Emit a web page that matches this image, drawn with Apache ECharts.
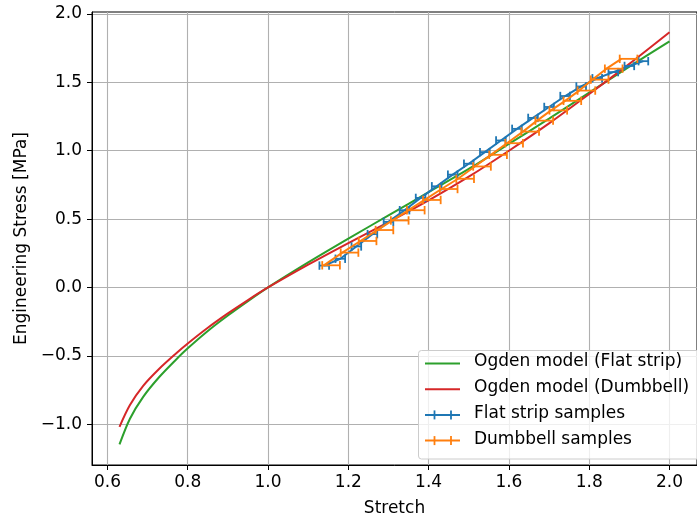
<!DOCTYPE html>
<html lang="en">
<head>
<meta charset="utf-8" />
<script src="https://cdn.jsdelivr.net/npm/echarts@6/dist/echarts.min.js"></script>
<style>
  html, body { margin: 0; padding: 0; background: #ffffff; }
  #main { width: 697px; height: 522px; }
</style>
</head>
<body>
<div id="main"></div>
<script>
// values
var modelStretch  = [0.63, 0.656, 0.689, 0.729, 0.770, 0.80, 0.85, 0.90, 0.95, 1.0, 1.1, 1.2, 1.3, 1.4, 1.5, 1.6, 1.7, 1.8, 1.9, 2.0];
var ogdenFlat     = [-1.148, -0.96, -0.80, -0.655, -0.53, -0.445, -0.318, -0.205, -0.10, 0, 0.183, 0.357, 0.527, 0.697, 0.867, 1.05, 1.235, 1.425, 1.615, 1.80];
var ogdenDumbbell = [-1.019, -0.86, -0.72, -0.595, -0.485, -0.41, -0.295, -0.19, -0.092, 0, 0.167, 0.325, 0.478, 0.637, 0.81, 1.0, 1.2, 1.415, 1.635, 1.866];

var flatStretch = [1.140, 1.180, 1.220, 1.260, 1.300, 1.340, 1.380, 1.420, 1.460, 1.500, 1.540, 1.580, 1.620, 1.660, 1.700, 1.740, 1.780, 1.820, 1.860, 1.900, 1.935];
var flatStress  = [0.16, 0.21, 0.30, 0.39, 0.48, 0.565, 0.655, 0.74, 0.825, 0.905, 0.99, 1.075, 1.16, 1.24, 1.32, 1.40, 1.47, 1.53, 1.575, 1.62, 1.655];
var flatErrLo   = [0.012, 0.012, 0.012, 0.012, 0.012, 0.012, 0.012, 0.012, 0.012, 0.012, 0.012, 0.012, 0.012, 0.012, 0.012, 0.012, 0.012, 0.012, 0.012, 0.012, 0.012];
var flatErrHi   = [0.012, 0.012, 0.012, 0.012, 0.012, 0.012, 0.012, 0.012, 0.012, 0.012, 0.012, 0.012, 0.012, 0.012, 0.012, 0.012, 0.012, 0.012, 0.012, 0.012, 0.012];

var dumbStretch = [1.139, 1.185, 1.230, 1.272, 1.310, 1.350, 1.390, 1.432, 1.473, 1.515, 1.555, 1.595, 1.635, 1.670, 1.705, 1.740, 1.775, 1.808, 1.843, 1.880];
var dumbStress  = [0.162, 0.255, 0.340, 0.420, 0.490, 0.565, 0.640, 0.720, 0.795, 0.885, 0.97, 1.055, 1.14, 1.22, 1.295, 1.365, 1.44, 1.52, 1.60, 1.672];
var dumbErrLo   = [0.004, 0.004, 0.004, 0.004, 0.004, 0.004, 0.004, 0.004, 0.004, 0.004, 0.004, 0.004, 0.004, 0.004, 0.004, 0.004, 0.004, 0.004, 0.004, 0.004];
var dumbErrHi   = [0.040, 0.040, 0.040, 0.040, 0.040, 0.040, 0.040, 0.040, 0.040, 0.040, 0.040, 0.040, 0.040, 0.040, 0.040, 0.040, 0.040, 0.040, 0.040, 0.040];

var xTicks = [0.6, 0.8, 1.0, 1.2, 1.4, 1.6, 1.8, 2.0];
var yTicks = [-1.0, -0.5, 0.0, 0.5, 1.0, 1.5, 2.0];

var legendNames = ['Ogden model (Flat strip)', 'Ogden model (Dumbbell)', 'Flat strip samples', 'Dumbbell samples'];

var GREEN = '#2ca02c', RED = '#d62728', BLUE = '#1f77b4', ORANGE = '#ff7f0e';
var FONT = 'DejaVu Sans';
var FS = 17;

function pairs(xs, ys) {
  return xs.map(function (x, i) { return [x, ys[i]]; });
}

function fmt(v) {
  return v.toFixed(1).replace('-', '\u2212');
}

function errorBars(xs, ys, lo, hi, color, z) {
  return {
    type: 'custom',
    z: z,
    silent: true,
    data: xs.map(function (x, i) { return [x - lo[i], x + hi[i], ys[i]]; }),
    encode: { x: [0, 1], y: 2 },
    renderItem: function (params, api) {
      var a = api.coord([api.value(0), api.value(2)]);
      var b = api.coord([api.value(1), api.value(2)]);
      var h = 4.2;
      var st = { stroke: color, lineWidth: 1.8 };
      return {
        type: 'group',
        children: [
          { type: 'line', shape: { x1: a[0], y1: a[1], x2: b[0], y2: b[1] }, style: st },
          { type: 'line', shape: { x1: a[0], y1: a[1] - h, x2: a[0], y2: a[1] + h }, style: st },
          { type: 'line', shape: { x1: b[0], y1: b[1] - h, x2: b[0], y2: b[1] + h }, style: st }
        ]
      };
    }
  };
}

// legend drawn by hand, in the matplotlib style
function legendGraphics() {
  var els = [{
    type: 'rect', left: 418, top: 350, z: 100,
    shape: { width: 290, height: 108.5, r: 3 },
    style: { fill: 'rgba(255,255,255,0.8)', stroke: '#cccccc', lineWidth: 1 }
  }];
  var colors = [GREEN, RED, BLUE, ORANGE];
  var rowY = [363.5, 389.2, 414.9, 440.6];
  for (var i = 0; i < 4; i++) {
    var y = rowY[i];
    els.push({ type: 'line', z: 101, shape: { x1: 425, y1: y, x2: 460, y2: y }, style: { stroke: colors[i], lineWidth: 2 } });
    if (i >= 2) {
      els.push({ type: 'line', z: 101, shape: { x1: 434.5, y1: y - 4.5, x2: 434.5, y2: y + 4.5 }, style: { stroke: colors[i], lineWidth: 1.8 } });
      els.push({ type: 'line', z: 101, shape: { x1: 451, y1: y - 4.5, x2: 451, y2: y + 4.5 }, style: { stroke: colors[i], lineWidth: 1.8 } });
    }
    els.push({
      type: 'text', z: 101, left: 474, top: y - 10,
      style: { text: legendNames[i], fill: '#000000', font: FS + 'px "' + FONT + '"' }
    });
  }
  return els;
}

var chart = echarts.init(document.getElementById('main'), null, { renderer: 'canvas' });

chart.setOption({
  animation: false,
  backgroundColor: '#ffffff',
  textStyle: { fontFamily: FONT },
  grid: {
    left: 92, top: 12, width: 616, height: 455,
    show: true, borderColor: '#000000', borderWidth: 1, backgroundColor: 'transparent'
  },
  xAxis: {
    type: 'value',
    min: 0.5615, max: 2.0685,
    name: 'Stretch',
    nameLocation: 'middle',
    nameGap: 35,
    nameTextStyle: { color: '#000000', fontSize: FS, fontFamily: FONT },
    axisLine: { show: true, onZero: false, lineStyle: { color: '#000000', width: 1 } },
    axisTick: { show: true, length: 5, customValues: xTicks, lineStyle: { color: '#000000', width: 1 } },
    axisLabel: { customValues: xTicks, margin: 9, color: '#000000', fontSize: FS, fontFamily: FONT, formatter: fmt },
    splitLine: { show: true, lineStyle: { color: '#b0b0b0', width: 1.1 } }
  },
  yAxis: {
    type: 'value',
    min: -1.2984, max: 2.0146,
    name: 'Engineering Stress [MPa]',
    nameLocation: 'middle',
    nameGap: 58,
    nameTextStyle: { color: '#000000', fontSize: FS, fontFamily: FONT },
    axisLine: { show: true, onZero: false, lineStyle: { color: '#000000', width: 1 } },
    axisTick: { show: true, length: 5, customValues: yTicks, lineStyle: { color: '#000000', width: 1 } },
    axisLabel: { customValues: yTicks, margin: 10, color: '#000000', fontSize: FS, fontFamily: FONT, formatter: fmt },
    splitLine: { show: true, lineStyle: { color: '#b0b0b0', width: 1.1 } }
  },
  graphic: legendGraphics(),
  series: [
    {
      name: legendNames[0], type: 'line', z: 2, showSymbol: false, smooth: 0.3,
      data: pairs(modelStretch, ogdenFlat),
      lineStyle: { color: GREEN, width: 2 }
    },
    {
      name: legendNames[1], type: 'line', z: 3, showSymbol: false, smooth: 0.3,
      data: pairs(modelStretch, ogdenDumbbell),
      lineStyle: { color: RED, width: 2 }
    },
    {
      name: legendNames[2], type: 'line', z: 4, showSymbol: false,
      data: pairs(flatStretch, flatStress),
      lineStyle: { color: BLUE, width: 2 }
    },
    errorBars(flatStretch, flatStress, flatErrLo, flatErrHi, BLUE, 4),
    {
      name: legendNames[3], type: 'line', z: 5, showSymbol: false,
      data: pairs(dumbStretch, dumbStress),
      lineStyle: { color: ORANGE, width: 2 }
    },
    errorBars(dumbStretch, dumbStress, dumbErrLo, dumbErrHi, ORANGE, 5)
  ]
});
</script>
</body>
</html>
